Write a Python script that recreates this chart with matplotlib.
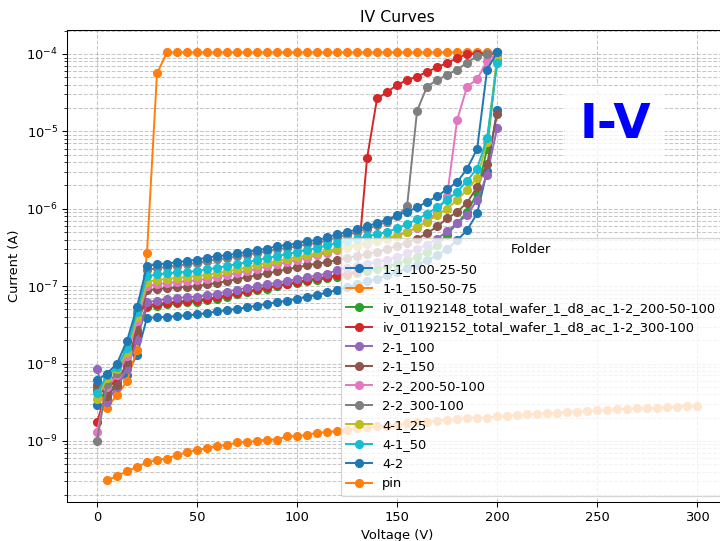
import numpy as np
import matplotlib.pyplot as plt

# voltage sweep for the 11 sample folders (0..200 V, 5 V steps)
voltage = list(range(0, 205, 5))
# pin diode sweep (5..300 V)
voltage_pin = list(range(5, 305, 5))

labels = ['1-1_100-25-50', '1-1_150-50-75',
          'iv_01192148_total_wafer_1_d8_ac_1-2_200-50-100',
          'iv_01192152_total_wafer_1_d8_ac_1-2_300-100',
          '2-1_100', '2-1_150', '2-2_200-50-100', '2-2_300-100',
          '4-1_25', '4-1_50', '4-2', 'pin']

i_1_1_100 = [2.9e-9, 4.2e-9, 5.6e-9, 7.2e-9, 1.3e-8, 3.9e-8, 3.95e-8, 4.0e-8, 4.1e-8, 4.2e-8,
             4.3e-8, 4.5e-8, 4.7e-8, 4.9e-8, 5.1e-8, 5.3e-8, 5.6e-8, 5.9e-8, 6.2e-8, 6.5e-8,
             6.9e-8, 7.3e-8, 7.7e-8, 8.3e-8, 8.9e-8, 9.7e-8, 1.05e-7, 1.15e-7, 1.25e-7, 1.38e-7,
             1.52e-7, 1.7e-7, 1.9e-7, 2.15e-7, 2.5e-7, 3.0e-7, 3.9e-7, 5.3e-7, 8.7e-7, 3.1e-6,
             1.88e-5]
i_1_1_150 = [5.0e-9, 2.7e-9, 3.9e-9, 5.9e-9, 1.5e-8, 2.7e-7, 5.6e-5, 1.05e-4, 1.05e-4, 1.05e-4,
             1.05e-4, 1.05e-4, 1.05e-4, 1.05e-4, 1.05e-4, 1.05e-4, 1.05e-4, 1.05e-4, 1.05e-4, 1.05e-4,
             1.05e-4, 1.05e-4, 1.05e-4, 1.05e-4, 1.05e-4, 1.05e-4, 1.05e-4, 1.05e-4, 1.05e-4, 1.05e-4,
             1.05e-4, 1.05e-4, 1.05e-4, 1.05e-4, 1.05e-4, 1.05e-4, 1.05e-4, 1.05e-4, 1.05e-4, 1.05e-4,
             1.05e-4]
i_iv_200 = [4.5e-9, 3.5e-9, 6.0e-9, 9.5e-9, 2.2e-8, 5.3e-8, 5.6e-8, 5.8e-8, 6.0e-8, 6.15e-8,
            6.3e-8, 6.6e-8, 6.9e-8, 7.3e-8, 7.8e-8, 8.3e-8, 8.8e-8, 9.3e-8, 9.9e-8, 1.05e-7,
            1.1e-7, 1.15e-7, 1.2e-7, 1.27e-7, 1.33e-7, 1.4e-7, 1.48e-7, 1.57e-7, 1.68e-7, 1.8e-7,
            1.95e-7, 2.15e-7, 2.4e-7, 2.8e-7, 3.4e-7, 4.6e-7, 6.5e-7, 9.0e-7, 1.6e-6, 6.0e-6,
            8.5e-5]
i_iv_300 = [1.75e-9, 4.5e-9, 6.5e-9, 9.0e-9, 2.5e-8, 5.6e-8, 5.9e-8, 6.1e-8, 6.3e-8, 6.45e-8,
            6.6e-8, 6.9e-8, 7.2e-8, 7.6e-8, 8.1e-8, 8.6e-8, 9.1e-8, 9.6e-8, 1.02e-7, 1.08e-7,
            1.14e-7, 1.2e-7, 1.26e-7, 1.32e-7, 1.38e-7, 1.45e-7, 1.55e-7, 4.5e-6, 2.67e-5, 3.2e-5,
            4.0e-5, 4.6e-5, 5.1e-5, 5.9e-5, 6.7e-5, 7.7e-5, 8.8e-5, 1.0e-4, 1.0e-4, 1.0e-4,
            1.0e-4]
i_2_1_100 = [8.4e-9, 3.2e-9, 5.0e-9, 8.5e-9, 2.0e-8, 6.2e-8, 6.5e-8, 6.8e-8, 7.0e-8, 7.2e-8,
             7.3e-8, 7.6e-8, 8.0e-8, 8.5e-8, 9.0e-8, 9.5e-8, 1.0e-7, 1.05e-7, 1.11e-7, 1.17e-7,
             1.23e-7, 1.3e-7, 1.37e-7, 1.45e-7, 1.6e-7, 1.7e-7, 1.8e-7, 1.92e-7, 2.05e-7, 2.2e-7,
             2.4e-7, 2.65e-7, 3.0e-7, 3.45e-7, 4.1e-7, 5.1e-7, 6.5e-7, 8.3e-7, 1.3e-6, 2.75e-6,
             1.1e-5]
i_2_1_150 = [5.3e-9, 3.8e-9, 5.3e-9, 1.05e-8, 2.7e-8, 8.8e-8, 9.2e-8, 9.4e-8, 9.6e-8, 9.8e-8,
             1.0e-7, 1.05e-7, 1.1e-7, 1.16e-7, 1.23e-7, 1.3e-7, 1.38e-7, 1.46e-7, 1.55e-7, 1.65e-7,
             1.75e-7, 1.85e-7, 1.95e-7, 2.05e-7, 2.16e-7, 2.3e-7, 2.45e-7, 2.6e-7, 2.8e-7, 3.0e-7,
             3.3e-7, 3.65e-7, 4.1e-7, 4.8e-7, 5.9e-7, 7.5e-7, 9.1e-7, 1.2e-6, 1.9e-6, 3.8e-6,
             1.67e-5]
i_2_2_200 = [1.3e-9, 5.0e-9, 7.0e-9, 1.25e-8, 3.5e-8, 1.0e-7, 1.06e-7, 1.1e-7, 1.13e-7, 1.16e-7,
             1.19e-7, 1.25e-7, 1.32e-7, 1.4e-7, 1.48e-7, 1.57e-7, 1.68e-7, 1.8e-7, 1.92e-7, 2.05e-7,
             2.2e-7, 2.34e-7, 2.5e-7, 2.7e-7, 2.9e-7, 3.1e-7, 3.3e-7, 3.55e-7, 3.8e-7, 4.1e-7,
             4.5e-7, 5.0e-7, 5.7e-7, 7.0e-7, 9.0e-7, 1.45e-6, 1.4e-5, 3.8e-5, 4.7e-5, 8.2e-5,
             1.02e-4]
i_2_2_300 = [1.0e-9, 5.5e-9, 7.5e-9, 1.5e-8, 4.5e-8, 1.6e-7, 1.72e-7, 1.77e-7, 1.84e-7, 1.92e-7,
             2.0e-7, 2.12e-7, 2.22e-7, 2.3e-7, 2.42e-7, 2.55e-7, 2.68e-7, 2.82e-7, 3.0e-7, 3.12e-7,
             3.27e-7, 3.5e-7, 3.6e-7, 3.9e-7, 4.3e-7, 4.6e-7, 5.0e-7, 5.5e-7, 6.1e-7, 6.8e-7,
             8.0e-7, 1.08e-6, 1.85e-5, 3.8e-5, 4.6e-5, 5.35e-5, 6.3e-5, 7.7e-5, 9.4e-5, 1.0e-4,
             1.05e-4]
i_4_1_25 = [3.5e-9, 6.5e-9, 8.5e-9, 1.4e-8, 4.0e-8, 1.13e-7, 1.2e-7, 1.24e-7, 1.28e-7, 1.31e-7,
            1.34e-7, 1.4e-7, 1.47e-7, 1.55e-7, 1.64e-7, 1.74e-7, 1.86e-7, 1.98e-7, 2.1e-7, 2.23e-7,
            2.36e-7, 2.5e-7, 2.66e-7, 2.85e-7, 3.05e-7, 3.25e-7, 3.45e-7, 3.7e-7, 3.95e-7, 4.2e-7,
            4.5e-7, 5.0e-7, 5.8e-7, 6.8e-7, 8.3e-7, 1.0e-6, 1.3e-6, 1.75e-6, 2.5e-6, 7.3e-6,
            9.2e-5]
i_4_1_50 = [4.1e-9, 7.0e-9, 9.0e-9, 1.6e-8, 4.6e-8, 1.34e-7, 1.42e-7, 1.46e-7, 1.5e-7, 1.53e-7,
            1.57e-7, 1.64e-7, 1.72e-7, 1.82e-7, 1.93e-7, 2.04e-7, 2.16e-7, 2.3e-7, 2.45e-7, 2.6e-7,
            2.75e-7, 2.92e-7, 3.1e-7, 3.35e-7, 3.6e-7, 3.85e-7, 4.1e-7, 4.4e-7, 4.7e-7, 5.0e-7,
            5.6e-7, 6.3e-7, 7.3e-7, 8.6e-7, 1.05e-6, 1.3e-6, 1.65e-6, 2.3e-6, 3.3e-6, 8.3e-6,
            7.6e-5]
i_4_2 = [6.1e-9, 7.4e-9, 1.0e-8, 1.96e-8, 5.4e-8, 1.81e-7, 1.92e-7, 1.96e-7, 2.04e-7, 2.12e-7,
         2.2e-7, 2.34e-7, 2.44e-7, 2.5e-7, 2.64e-7, 2.77e-7, 2.91e-7, 3.06e-7, 3.28e-7, 3.4e-7,
         3.55e-7, 3.85e-7, 3.9e-7, 4.27e-7, 4.69e-7, 5.0e-7, 5.4e-7, 5.9e-7, 6.6e-7, 7.2e-7,
         8.3e-7, 9.1e-7, 1.04e-6, 1.23e-6, 1.44e-6, 1.8e-6, 2.2e-6, 3.3e-6, 5.9e-6, 6.3e-5,
         1.05e-4]
i_pin = [3.1e-10, 3.5e-10, 4.07e-10, 4.6e-10, 5.3e-10, 5.7e-10, 5.9e-10, 6.6e-10, 7.1e-10, 7.7e-10,
         8.0e-10, 8.7e-10, 8.75e-10, 9.6e-10, 9.65e-10, 1.0e-9, 1.04e-9, 1.04e-9, 1.15e-9, 1.15e-9,
         1.2e-9, 1.27e-9, 1.3e-9, 1.34e-9, 1.4e-9, 1.45e-9, 1.5e-9, 1.55e-9, 1.55e-9, 1.6e-9,
         1.7e-9, 1.75e-9, 1.78e-9, 1.83e-9, 1.88e-9, 1.9e-9, 2.0e-9, 1.98e-9, 2.0e-9, 2.07e-9,
         2.1e-9, 2.15e-9, 2.2e-9, 2.25e-9, 2.28e-9, 2.3e-9, 2.37e-9, 2.38e-9, 2.4e-9, 2.47e-9,
         2.5e-9, 2.55e-9, 2.6e-9, 2.63e-9, 2.63e-9, 2.7e-9, 2.72e-9, 2.75e-9, 2.8e-9, 2.8e-9]

currents = [i_1_1_100, i_1_1_150, i_iv_200, i_iv_300, i_2_1_100, i_2_1_150,
            i_2_2_200, i_2_2_300, i_4_1_25, i_4_1_50, i_4_2, i_pin]

# reference looks like a slightly downscaled render, so use dpi 93.75 for 720x541
dpi = 93.75
fig = plt.figure(figsize=(720 / dpi, 541 / dpi), dpi=dpi)
ax = fig.add_axes([0.093, 0.072, 0.917, 0.8725])

for label, cur in zip(labels, currents):
    v = voltage_pin if label == 'pin' else voltage
    ax.plot(v, cur, marker='o', label=label)

ax.set_yscale('log')
ax.set_xlim(-15, 315)
ax.set_ylim(1.62e-10, 2.04e-4)
ax.set_title('IV Curves')
ax.set_xlabel('Voltage (V)')
ax.set_ylabel('Current (A)')
ax.grid(True, which='both', linestyle='--', alpha=0.7)
ax.legend(title='Folder', loc='lower right')

ax.text(0.83, 0.80, 'I-V', transform=ax.transAxes, fontsize=37, fontweight='bold',
        color='blue', ha='center', va='center',
        bbox=dict(boxstyle='square,pad=0.3', facecolor='white', edgecolor='none', alpha=0.8))

fig.savefig('out.png', dpi=dpi)
